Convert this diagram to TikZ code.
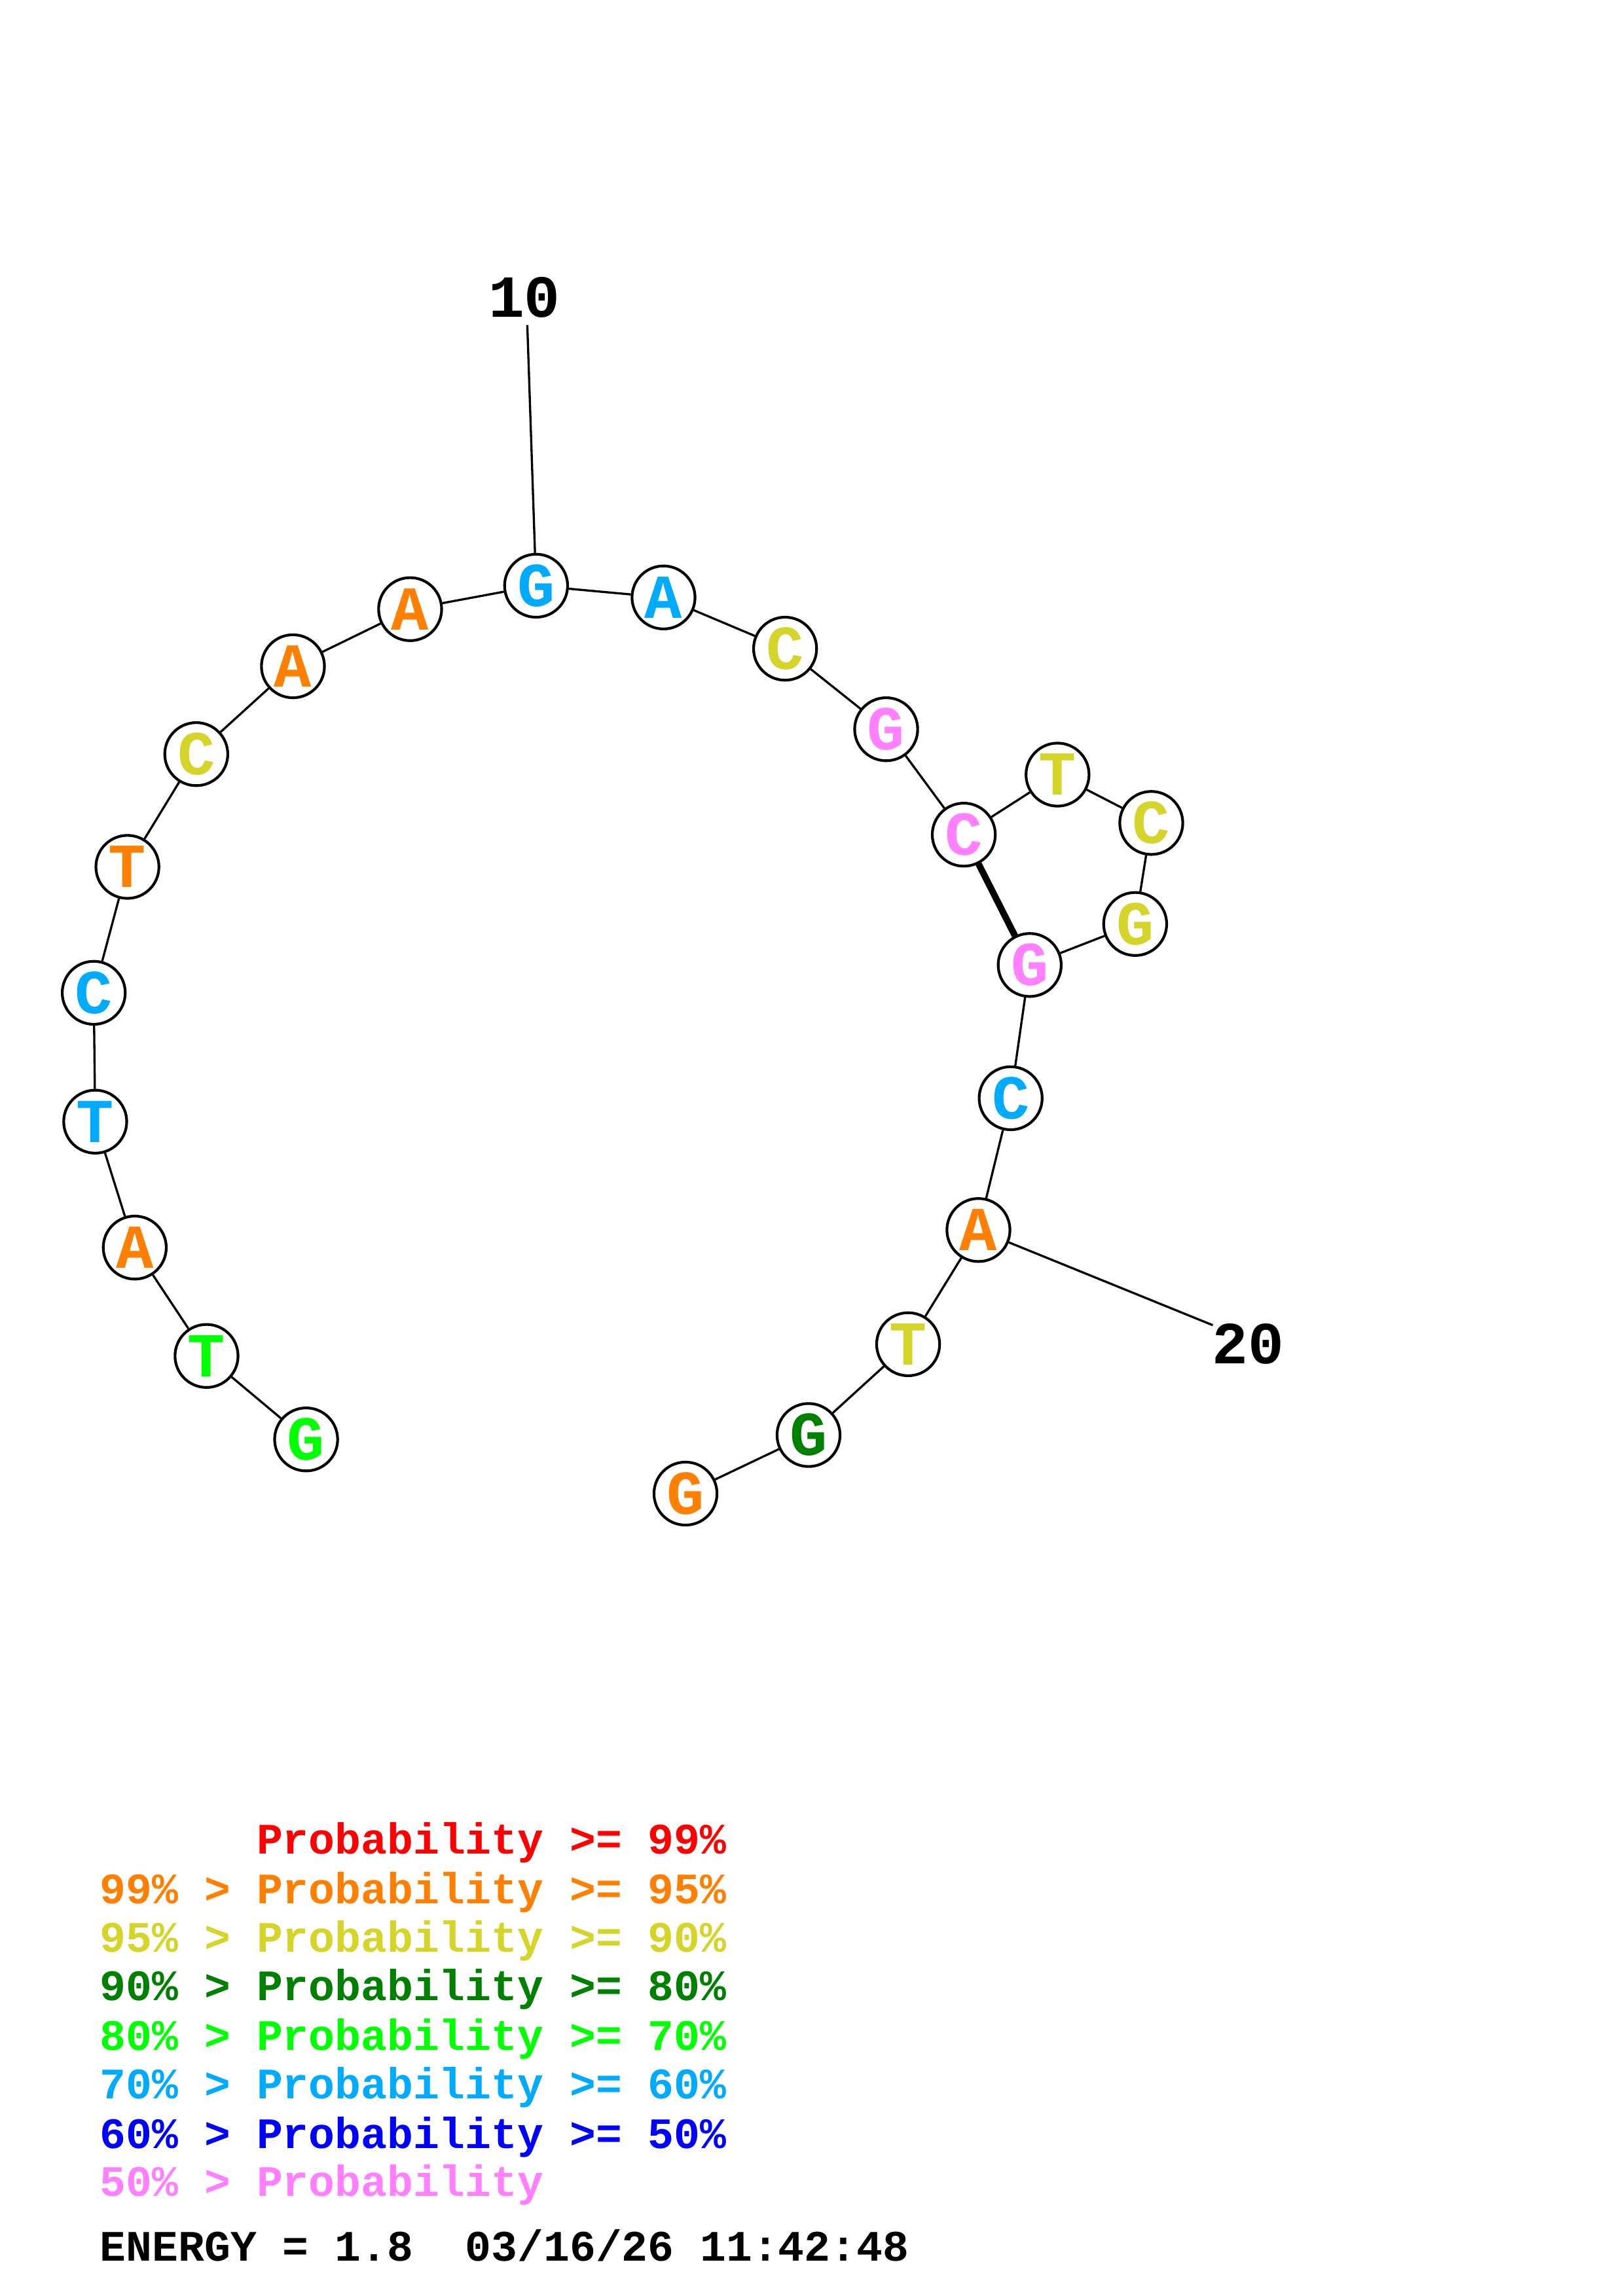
\documentclass[tikz,border=0pt]{standalone}
\usepackage{fontspec}
\setmainfont{Liberation Mono}
\definecolor{prob99}{RGB}{255,0,0}
\definecolor{prob95}{RGB}{255,128,0}
\definecolor{prob90}{RGB}{212,212,42}
\definecolor{prob80}{RGB}{0,128,0}
\definecolor{prob70}{RGB}{0,255,0}
\definecolor{prob60}{RGB}{0,170,255}
\definecolor{prob50}{RGB}{0,0,255}
\definecolor{probmin}{RGB}{255,128,255}
\begin{document}
\begin{tikzpicture}[x=0.18944mm,y=-0.18944mm]
	% Styles
	\tikzstyle{liaison}=[-,line width=0.8pt]
	\tikzstyle{paire}=[-,line width=2.4pt]
	\tikzstyle{base}=[circle,draw,line width=1pt,fill=white,minimum size=8.15mm,inner sep=0pt,font=\fontsize{23}{23}\selectfont\bfseries]
	\tikzstyle{numero}=[inner sep=0pt,font=\fontsize{22}{22}\selectfont\bfseries]
	\tikzstyle{legende}=[anchor=base west,inner sep=0pt,font=\fontsize{16}{16}\selectfont\bfseries]
	% Cadre
	\useasboundingbox (0,0) rectangle (1108,1568);
	% Bases
	\node[base,text=prob70] (B1) at (209,983) {G};
	\node[base,text=prob70] (B2) at (141,926) {T};
	\node[base,text=prob95] (B3) at (92,852) {A};
	\node[base,text=prob60] (B4) at (65,766) {T};
	\node[base,text=prob60] (B5) at (64,678) {C};
	\node[base,text=prob95] (B6) at (87,592) {T};
	\node[base,text=prob90] (B7) at (134,515) {C};
	\node[base,text=prob95] (B8) at (200,455) {A};
	\node[base,text=prob95] (B9) at (280,416) {A};
	\node[base,text=prob60] (B10) at (366,400) {G};
	\node[base,text=prob60] (B11) at (453,408) {A};
	\node[base,text=prob90] (B12) at (536,443) {C};
	\node[base,text=probmin] (B13) at (605,498) {G};
	\node[base,text=probmin] (B14) at (658,570) {C};
	\node[base,text=prob90] (B15) at (722,529) {T};
	\node[base,text=prob90] (B16) at (786,562) {C};
	\node[base,text=prob90] (B17) at (775,631) {G};
	\node[base,text=probmin] (B18) at (703,659) {G};
	\node[base,text=prob60] (B19) at (690,750) {C};
	\node[base,text=prob95] (B20) at (668,840) {A};
	\node[base,text=prob90] (B21) at (620,918) {T};
	\node[base,text=prob80] (B22) at (552,980) {G};
	\node[base,text=prob95] (B23) at (468,1020) {G};
	% Numeros
	\node[numero] (N10) at (358,203) {10};
	\coordinate (T10) at (360,222);
	\node[numero] (N20) at (852,918) {20};
	\coordinate (T20) at (828,905);
	% Liaisons
	\draw[liaison] (B1)--(B2);
	\draw[liaison] (B2)--(B3);
	\draw[liaison] (B3)--(B4);
	\draw[liaison] (B4)--(B5);
	\draw[liaison] (B5)--(B6);
	\draw[liaison] (B6)--(B7);
	\draw[liaison] (B7)--(B8);
	\draw[liaison] (B8)--(B9);
	\draw[liaison] (B9)--(B10);
	\draw[liaison] (B10)--(B11);
	\draw[liaison] (B11)--(B12);
	\draw[liaison] (B12)--(B13);
	\draw[liaison] (B13)--(B14);
	\draw[liaison] (B14)--(B15);
	\draw[liaison] (B15)--(B16);
	\draw[liaison] (B16)--(B17);
	\draw[liaison] (B17)--(B18);
	\draw[liaison] (B18)--(B19);
	\draw[liaison] (B19)--(B20);
	\draw[liaison] (B20)--(B21);
	\draw[liaison] (B21)--(B22);
	\draw[liaison] (B22)--(B23);
	\draw[paire] (B14)--(B18);
	\draw[liaison] (B10)--(T10);
	\draw[liaison] (B20)--(T20);
	% Legende
	\node[legende,text=prob99] (L1) at (68,1266) {\phantom{99\% > }Probability >= 99\%};
	\node[legende,text=prob95] (L2) at (68,1300) {99\% > Probability >= 95\%};
	\node[legende,text=prob90] (L3) at (68,1333) {95\% > Probability >= 90\%};
	\node[legende,text=prob80] (L4) at (68,1366) {90\% > Probability >= 80\%};
	\node[legende,text=prob70] (L5) at (68,1400) {80\% > Probability >= 70\%};
	\node[legende,text=prob60] (L6) at (68,1433) {70\% > Probability >= 60\%};
	\node[legende,text=prob50] (L7) at (68,1467) {60\% > Probability >= 50\%};
	\node[legende,text=probmin] (L8) at (68,1500) {50\% > Probability};
	\node[legende] (L9) at (68,1544) {ENERGY = 1.8~~03/16/26 11:42:48};
\end{tikzpicture}
\end{document}
